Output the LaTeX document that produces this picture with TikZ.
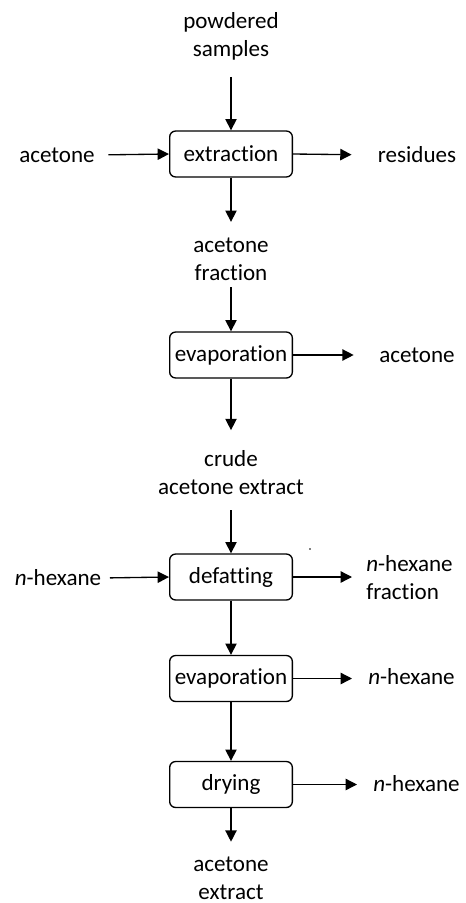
\documentclass[tikz,border=0pt]{standalone}
\usepackage{fontspec}
\setmainfont[Ligatures=NoCommon]{Carlito}
\usetikzlibrary{arrows.meta}

\begin{document}
\begin{tikzpicture}[x=0.75pt,y=0.75pt,yscale=-1,xscale=1,
  font=\fontsize{17.3pt}{21pt}\selectfont,
  stepbox/.style={draw,line width=1pt,rounded corners=4.5pt,minimum width=92pt,minimum height=34.5pt,inner sep=0pt},
  lbl/.style={inner sep=0pt,align=center},
  flow/.style={line width=1pt,-{Triangle[length=8.5pt,width=8.5pt]}}]
  \useasboundingbox (0,0) rectangle (465,903);

  % Boxes
  \node [stepbox] (ext) at (231,154) {extraction};
  \node [stepbox] (evA) at (231,355) {evaporation};
  \node [stepbox] (def) at (231,577) {defatting};
  \node [stepbox] (evB) at (231,678.5) {evaporation};
  \node [stepbox] (dry) at (231,784.5) {drying};

  % Text Nodes
  \node [lbl] (pow) at (231,36) {powdered\\samples};
  \node [lbl] (acIn) at (57,155) {acetone};
  \node [lbl] (res) at (417,155) {residues};
  \node [lbl] (acFr) at (231,259.5) {acetone\\fraction};
  \node [lbl] (acOut) at (417,355) {acetone};
  \node [lbl] (crude) at (231,472.5) {crude\\acetone extract};
  \node [lbl] (hxIn) at (58,578) {\textit{n}-hexane};
  \node [lbl,align=left,anchor=west] (hxFr) at (366,577.5) {\textit{n}-hexane\\fraction};
  \node [lbl,anchor=west] (hxA) at (368,677) {\textit{n}-hexane};
  \node [lbl,anchor=west] (hxB) at (373,784) {\textit{n}-hexane};
  \node [lbl] (final) at (231,878) {acetone\\extract};

  % Connectors
  \draw [flow,shorten <=12.5pt] (pow.south) -- (ext.north);
  \draw [flow,shorten <=10pt] (acIn.east) -- (ext.west);
  \draw [flow,shorten >=19.5pt] (ext.east) -- (res.west);
  \draw [flow,shorten >=12pt] (ext.south) -- (acFr.north);
  \draw [flow,shorten <=4.5pt] (acFr.south) -- (evA.north);
  \draw [flow,shorten >=19pt] (evA.east) -- (acOut.west);
  \draw [flow,shorten >=15pt] (evA.south) -- (crude.north);
  \draw [flow,shorten <=11.6pt] (crude.south) -- (def.north);
  \draw [flow,shorten <=6.4pt] (hxIn.east) -- (def.west);
  \draw [flow,shorten >=10.5pt] (def.east) -- (def.east -| hxFr.west);
  \draw [flow] (def.south) -- (evB.north);
  \draw [flow,shorten >=12pt] (evB.east) -- (evB.east -| hxA.west);
  \draw [flow] (evB.south) -- (dry.north);
  \draw [flow,shorten >=12pt] (dry.east) -- (dry.east -| hxB.west);
  \draw [flow,shorten >=11pt] (dry.south) -- (final.north);

  % stray dot
  \fill (310,549) circle (0.9);
\end{tikzpicture}
\end{document}
